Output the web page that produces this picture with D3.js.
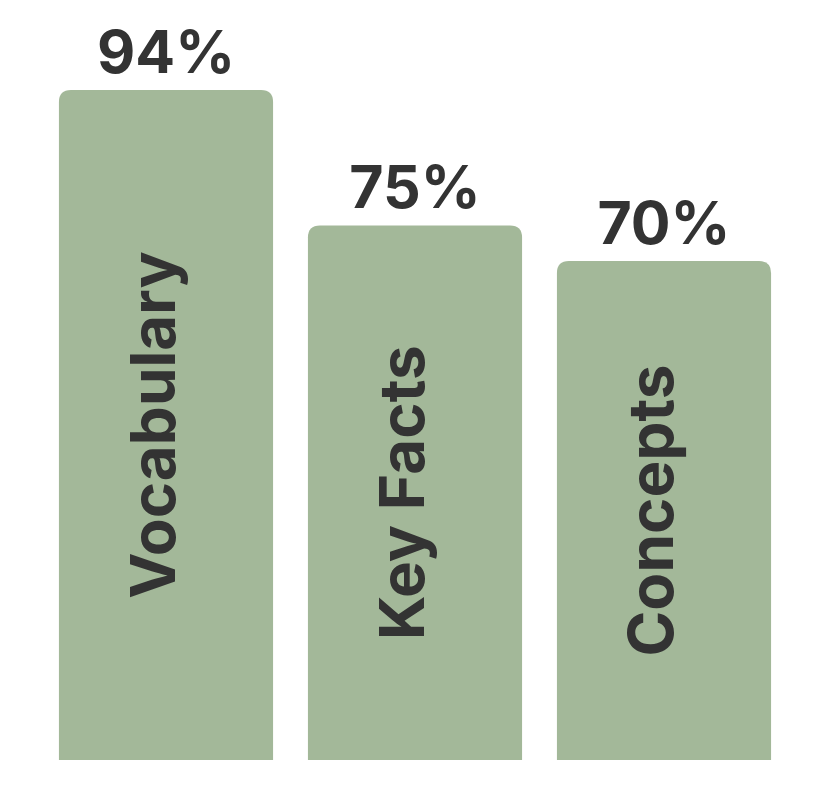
<!DOCTYPE html>
<html>
<head>
<meta charset="utf-8">
<script src="https://cdn.jsdelivr.net/npm/d3@7"></script>
<style>
  html, body { margin: 0; padding: 0; background: #fff; }
  svg { display: block; }
</style>
</head>
<body>
<div id="chart"></div>
<script>
const categories = ['Vocabulary', 'Key Facts', 'Concepts']
const values = [94, 75, 70]
const valueLabels = ['94%', '75%', '70%']

const width = 822
const height = 806
const barColor = '#a3b899'
const textColor = '#333333'
const fontFamily = 'Inter, sans-serif'
const cornerRadius = 12

const svg = d3.select('#chart')
  .append('svg')
  .attr('width', width)
  .attr('height', height)

const x = d3.scaleBand()
  .domain(categories)
  .range([41.5, 788.5])
  .paddingInner(0.14)
  .paddingOuter(0.07)

const y = d3.scaleLinear()
  .domain([0, 100])
  .range([760, 47.2])

// bar with rounded top corners only
function barPath (x0, y0, w, y1, r) {
  return `M${x0},${y1}` +
    `V${y0 + r}` +
    `Q${x0},${y0} ${x0 + r},${y0}` +
    `H${x0 + w - r}` +
    `Q${x0 + w},${y0} ${x0 + w},${y0 + r}` +
    `V${y1}Z`
}

const bars = svg.append('g')
  .selectAll('g')
  .data(categories)
  .enter()
  .append('g')

bars.append('path')
  .attr('fill', barColor)
  .attr('d', (d, i) => barPath(x(d), y(values[i]), x.bandwidth(), y(0), cornerRadius))

bars.append('text')
  .attr('x', d => x(d) + x.bandwidth() / 2)
  .attr('y', (d, i) => y(values[i]) - 17)
  .attr('text-anchor', 'middle')
  .attr('font-family', fontFamily)
  .attr('font-weight', 700)
  .attr('font-size', 59)
  .attr('fill', textColor)
  .text((d, i) => valueLabels[i])

bars.append('text')
  .attr('transform', (d, i) => {
    const cx = x(d) + x.bandwidth() / 2
    const cy = (y(values[i]) + y(0)) / 2
    return `translate(${cx},${cy}) rotate(-90)`
  })
  .attr('text-anchor', 'middle')
  .attr('dy', '0.14em')
  .attr('font-family', fontFamily)
  .attr('font-weight', 700)
  .attr('font-size', 62)
  .attr('fill', textColor)
  .text(d => d)
</script>
</body>
</html>
